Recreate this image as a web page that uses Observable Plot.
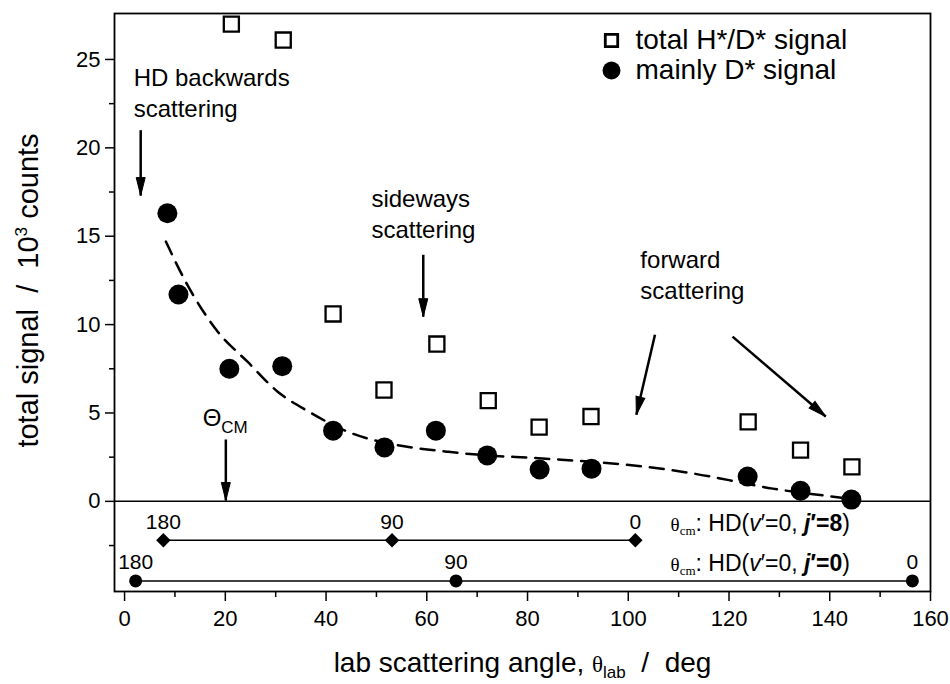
<!DOCTYPE html>
<html><head><meta charset="utf-8">
<script src="https://cdn.jsdelivr.net/npm/d3@7"></script>
<script src="https://cdn.jsdelivr.net/npm/@observablehq/plot@0.6"></script>
<style>body{margin:0;background:#fff} #chart{width:950px;height:684px}</style>
</head><body><div id="chart"></div>
<script>
// total H*/D* signal (open squares)
const totalAngle = [21.2, 31.5, 41.4, 51.5, 62.0, 72.2, 82.3, 92.6, 123.8, 134.2, 144.4];
const totalSignal = [27.0, 26.1, 10.6, 6.3, 8.9, 5.7, 4.2, 4.8, 4.5, 2.9, 1.95];
// mainly D* signal (filled circles)
const dAngle = [8.5, 10.7, 20.8, 31.3, 41.4, 51.6, 61.8, 72.0, 82.4, 92.7, 123.7, 134.2, 144.3];
const dSignal = [16.3, 11.7, 7.5, 7.65, 4.0, 3.05, 4.0, 2.6, 1.8, 1.85, 1.4, 0.6, 0.1];
// dashed guide curve
const fitAngle = [8.2, 11.8, 18.5, 24.4, 30.4, 36.4, 45, 52, 58.3, 64.3, 72, 81.5, 92, 102, 113, 120, 128.7, 138.6, 144];
const fitSignal = [14.7, 12.6, 9.6, 7.9, 6.2, 5.1, 3.86, 3.3, 3.0, 2.8, 2.6, 2.45, 2.25, 2.0, 1.57, 1.2, 0.72, 0.34, 0.15];
// centre-of-mass angle scales
const cmTicks = ["180", "90", "0"];
const labAngleJ8 = [7.7, 53.1, 101.4];
const labAngleJ0 = [2.2, 65.8, 156.4];
const rowY = [-2.2, -4.5];
const rowLabels = ["θcm: HD(v'=0, j'=8)", "θcm: HD(v'=0, j'=0)"];
const rowLabelX = 108.4;
// annotations
const noteText = ["HD backwards\nscattering", "sideways\nscattering", "forward\nscattering", "ΘCM"];
const noteX = [1.8, 49.0, 102.4, 15.5];
const noteY = [23.2, 16.35, 12.9, 4.8];
const arrowX1 = [3.2, 59.3, 105.3, 120.7, 20.1];
const arrowY1 = [21.0, 13.95, 9.43, 9.32, 3.5];
const arrowX2 = [3.2, 59.3, 101.6, 139.2, 20.1];
const arrowY2 = [17.3, 10.45, 4.9, 4.8, 0.05];
// axes
const xMajor = [0, 20, 40, 60, 80, 100, 120, 140, 160];
const xMinor = [10, 30, 50, 70, 90, 110, 130, 150];
const yMajor = [0, 5, 10, 15, 20, 25];
const yMinor = [-2.5, 2.5, 7.5, 12.5, 17.5, 22.5];
const legendLabels = ["total H*/D* signal", "mainly D* signal"];

const W = 950, H = 684, ML = 114, MR = 20, MT = 13, MB = 93;
const xDomain = [-2, 160], yDomain = [-5.1, 27.6];

const sq = totalAngle.map((x, i) => ({x, y: totalSignal[i]}));
const dots = dAngle.map((x, i) => ({x, y: dSignal[i]}));
const fit = fitAngle.map((x, i) => ({x, y: fitSignal[i]}));
const rowJ8 = labAngleJ8.map((x, i) => ({x, y: rowY[0], t: cmTicks[i]}));
const rowJ0 = labAngleJ0.map((x, i) => ({x, y: rowY[1], t: cmTicks[i]}));
const rowLab = rowLabels.map((t, i) => ({x: rowLabelX, y: rowY[i], t}));
const notes = noteText.map((t, i) => ({x: noteX[i], y: noteY[i], t}));

// same linear mapping as the plot, used only to orient arrowheads on screen
const sx = d3.scaleLinear(xDomain, [ML, W - MR]);
const sy = d3.scaleLinear(yDomain, [H - MB, MT]);
const arrows = arrowX1.map((x1, i) => {
  const dxp = sx(arrowX2[i]) - sx(x1), dyp = sy(arrowY2[i]) - sy(arrowY1[i]);
  return {x1, y1: arrowY1[i], x2: arrowX2[i], y2: arrowY2[i], a: Math.atan2(dxp, -dyp) * 180 / Math.PI};
});
// narrow filled arrowhead, tip at the symbol origin, pointing up before rotation
const arrowHead = {draw(ctx) { ctx.moveTo(0, 0); ctx.lineTo(-4.5, 18); ctx.lineTo(4.5, 18); ctx.closePath(); }};

const plot = Plot.plot({
  width: W, height: H,
  marginLeft: ML, marginRight: MR, marginTop: MT, marginBottom: MB,
  style: {fontFamily: "'Liberation Sans', Arial, sans-serif", fontSize: "22px", color: "black", background: "white"},
  x: {domain: xDomain},
  y: {domain: yDomain},
  marks: [
    Plot.axisX({ticks: xMajor, tickSize: 10, tickPadding: 9, fontSize: 22, label: null, strokeWidth: 1.5}),
    Plot.axisX({ticks: xMinor, tickSize: 6, tickFormat: () => "", label: null, strokeWidth: 1.5}),
    Plot.axisY({ticks: yMajor, tickSize: 9, tickPadding: 5, fontSize: 22, label: null, strokeWidth: 1.5}),
    Plot.axisY({ticks: yMinor, tickSize: 5, tickFormat: () => "", label: null, strokeWidth: 1.5}),
    Plot.frame({stroke: "black", strokeWidth: 1.8}),
    Plot.ruleY([0], {stroke: "black", strokeWidth: 1.5}),
    Plot.line(fit, {x: "x", y: "y", curve: "monotone-x", stroke: "black", strokeWidth: 2.5, strokeDasharray: "14,9"}),
    Plot.line(rowJ8, {x: "x", y: "y", stroke: "black", strokeWidth: 1.5}),
    Plot.line(rowJ0, {x: "x", y: "y", stroke: "black", strokeWidth: 1.5}),
    Plot.dot(rowJ8, {x: "x", y: "y", symbol: "diamond2", r: 6.5, fill: "black"}),
    Plot.dot(rowJ0, {x: "x", y: "y", r: 6.5, fill: "black"}),
    Plot.text(rowJ8, {x: "x", y: "y", text: "t", dy: -18, fontSize: 21}),
    Plot.text(rowJ0, {x: "x", y: "y", text: "t", dy: -19, fontSize: 21}),
    Plot.text(rowLab, {x: "x", y: "y", text: "t", dy: -17, fontSize: 23, textAnchor: "start"}),
    Plot.dot(sq, {x: "x", y: "y", symbol: "square", r: 8.5, stroke: "black", strokeWidth: 2.3, fill: "white"}),
    Plot.dot(dots, {x: "x", y: "y", r: 10, fill: "black"}),
    Plot.link(arrows, {x1: "x1", y1: "y1", x2: "x2", y2: "y2", stroke: "black", strokeWidth: 2.5}),
    Plot.dot(arrows, {x: "x2", y: "y2", rotate: "a", symbol: arrowHead, fill: "black", stroke: "black", strokeWidth: 1}),
    Plot.text(notes, {x: "x", y: "y", text: "t", textAnchor: "start", fontSize: 24, lineHeight: 1.3}),
    // legend
    Plot.dot([0], {frameAnchor: "top-left", dx: 497, dy: 27, symbol: "square", r: 7, stroke: "black", strokeWidth: 2.8, fill: "white"}),
    Plot.dot([0], {frameAnchor: "top-left", dx: 497, dy: 57, r: 9, fill: "black"}),
    Plot.text([legendLabels[0]], {frameAnchor: "top-left", dx: 521, dy: 27, text: d => d, textAnchor: "start", lineAnchor: "middle", fontSize: 28, letterSpacing: "0.6px"}),
    Plot.text([legendLabels[1]], {frameAnchor: "top-left", dx: 521, dy: 57, text: d => d, textAnchor: "start", lineAnchor: "middle", fontSize: 28, letterSpacing: "0.6px"}),
    // axis titles
    Plot.text(["lab scattering angle, θlab / deg"], {frameAnchor: "bottom", dy: 80, text: d => d, textAnchor: "middle", fontSize: 28}),
    Plot.text(["total signal / 10³ counts"], {frameAnchor: "left", dx: -86, dy: -12, rotate: -90, text: d => d, textAnchor: "middle", lineAnchor: "middle", fontSize: 29, letterSpacing: "0.4px"})
  ]
});

const nb = "\u00a0";
const thetaCm = `<tspan font-family="Liberation Serif" font-size="19">θ</tspan><tspan font-family="Liberation Serif" font-size="13" dy="4">cm</tspan><tspan dy="-4">:${nb}HD(</tspan><tspan font-style="italic">v</tspan><tspan>′=0,${nb}</tspan><tspan font-style="italic" font-weight="bold">j</tspan>`;
const rich = {
  "θcm: HD(v'=0, j'=8)": thetaCm + `<tspan font-weight="bold">′=8</tspan><tspan>)</tspan>`,
  "θcm: HD(v'=0, j'=0)": thetaCm + `<tspan font-weight="bold">′=0</tspan><tspan>)</tspan>`,
  "ΘCM": `Θ<tspan font-size="17" dy="7">CM</tspan>`,
  "lab scattering angle, θlab / deg": `lab scattering angle,${nb}<tspan font-family="Liberation Serif" font-size="23">θ</tspan><tspan font-size="17" dy="6">lab</tspan><tspan dy="-6">${nb}${nb}/${nb}${nb}deg</tspan>`,
  "total signal / 10³ counts": `total signal${nb}${nb}/${nb}${nb}10<tspan font-size="17" dy="-11">3</tspan><tspan dy="11">${nb}counts</tspan>`
};
d3.select(plot).selectAll("text").each(function() {
  const t = this.textContent;
  if (rich[t]) this.innerHTML = rich[t];
});
document.getElementById("chart").appendChild(plot);
</script>
</body></html>
